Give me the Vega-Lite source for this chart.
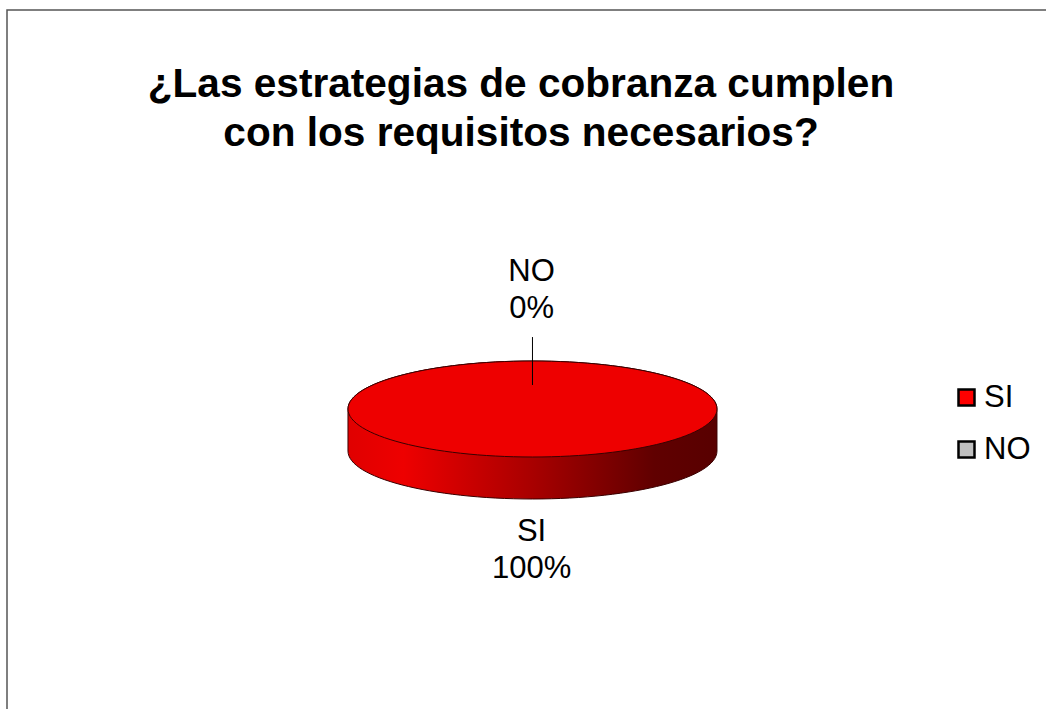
{
  "$schema": "https://vega.github.io/schema/vega-lite/v6.json",
  "width": 1060,
  "height": 720,
  "padding": {"left": 7, "top": 10, "right": 0, "bottom": 0},
  "autosize": "none",
  "background": "white",
  "view": {"stroke": "#555555", "strokeWidth": 1.5, "fill": "white"},
  "title": {
    "text": ["¿Las estrategias de cobranza cumplen", "con los requisitos necesarios?"],
    "font": "Liberation Sans",
    "fontSize": 40.6,
    "fontWeight": "bold",
    "color": "#000000",
    "lineHeight": 49,
    "orient": "top",
    "anchor": "start",
    "frame": "group",
    "align": "center",
    "baseline": "alphabetic",
    "offset": -177,
    "dx": 514
  },
  "datasets": {
    "slices": [
      {"category": "SI", "share": 100},
      {"category": "NO", "share": 0}
    ]
  },
  "data": {"name": "slices"},
  "transform": [
    {"calculate": "[datum.category, datum.share + '%']", "as": "label"}
  ],
  "layer": [
    {
      "transform": [{"filter": "datum.category === 'SI'"}],
      "mark": {
        "type": "point",
        "filled": true,
        "opacity": 1,
        "size": 136161,
        "stroke": "#3a0000",
        "strokeWidth": 1,
        "shape": "M-1,0 C-1,-0.14368 -0.5523,-0.26016 0,-0.26016 C0.5523,-0.26016 1,-0.14368 1,0 L1,0.2276 C1,0.37128 0.5523,0.48776 0,0.48776 C-0.5523,0.48776 -1,0.37128 -1,0.2276 Z",
        "fill": {
          "gradient": "linear",
          "x1": 0, "y1": 0, "x2": 1, "y2": 0,
          "stops": [
            {"offset": 0, "color": "#e00000"},
            {"offset": 0.15, "color": "#ee0000"},
            {"offset": 0.5, "color": "#a80000"},
            {"offset": 0.83, "color": "#600000"},
            {"offset": 1, "color": "#580000"}
          ]
        }
      },
      "encoding": {
        "x": {"datum": 0, "type": "quantitative", "scale": {"domain": [-2.848, 2.897], "nice": false, "zero": false}, "axis": null},
        "y": {"datum": 0, "type": "quantitative", "scale": {"domain": [-2.1626, 1.7398], "nice": false, "zero": false, "reverse": true}, "axis": null}
      }
    },
    {
      "transform": [{"filter": "datum.category === 'SI'"}],
      "mark": {
        "type": "point",
        "filled": true,
        "opacity": 1,
        "size": 136161,
        "fill": "#ee0000",
        "stroke": "#3a0000",
        "strokeWidth": 1,
        "shape": "M-1,0 C-1,-0.14368 -0.5523,-0.26016 0,-0.26016 C0.5523,-0.26016 1,-0.14368 1,0 C1,0.14368 0.5523,0.26016 0,0.26016 C-0.5523,0.26016 -1,0.14368 -1,0 Z"
      },
      "encoding": {
        "x": {"datum": 0, "type": "quantitative"},
        "y": {"datum": 0, "type": "quantitative"}
      }
    },
    {
      "transform": [{"filter": "datum.category === 'NO'"}],
      "mark": {"type": "rule", "color": "#000000", "strokeWidth": 1},
      "encoding": {
        "x": {"datum": 0, "type": "quantitative"},
        "y": {"datum": -0.39, "type": "quantitative"},
        "y2": {"datum": -0.13}
      }
    },
    {
      "transform": [{"filter": "datum.category === 'NO'"}],
      "mark": {"type": "text", "font": "Liberation Sans", "fontSize": 31, "lineHeight": 37, "color": "#000000", "align": "center", "baseline": "alphabetic"},
      "encoding": {
        "x": {"datum": -0.005, "type": "quantitative"},
        "y": {"datum": -0.694, "type": "quantitative"},
        "text": {"field": "label"}
      }
    },
    {
      "transform": [{"filter": "datum.category === 'SI'"}],
      "mark": {"type": "text", "font": "Liberation Sans", "fontSize": 31, "lineHeight": 37, "color": "#000000", "align": "center", "baseline": "alphabetic"},
      "encoding": {
        "x": {"datum": -0.005, "type": "quantitative"},
        "y": {"datum": 0.715, "type": "quantitative"},
        "text": {"field": "label"}
      }
    },
    {
      "mark": {"type": "point", "filled": true, "size": 0, "opacity": 1},
      "encoding": {
        "x": {"datum": 0, "type": "quantitative"},
        "y": {"datum": 0, "type": "quantitative"},
        "color": {
          "field": "category",
          "type": "nominal",
          "scale": {"domain": ["SI", "NO"], "range": ["#ff0000", "#c0c0c0"]},
          "legend": {
            "title": null,
            "orient": "none",
            "legendX": 944,
            "legendY": 372,
            "symbolType": "square",
            "symbolSize": 256,
            "symbolStrokeColor": "#000000",
            "symbolStrokeWidth": 2.5,
            "symbolOpacity": 1,
            "labelFont": "Liberation Sans",
            "labelFontSize": 31,
            "labelColor": "#000000",
            "labelOffset": 2,
            "rowPadding": 20
          }
        }
      }
    }
  ]
}
